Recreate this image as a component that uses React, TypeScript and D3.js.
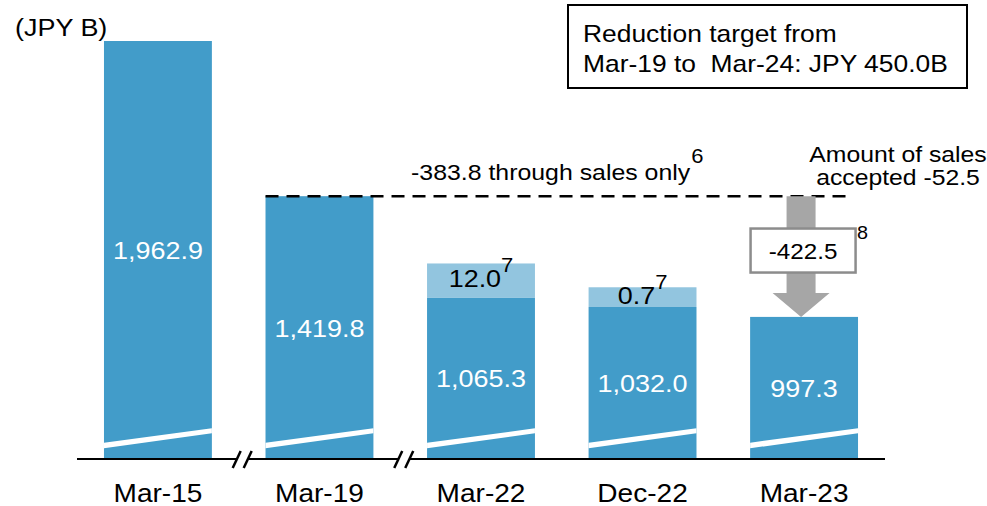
import React from 'react';
import * as d3 from 'd3';

// ---- data ----
const categories = ['Mar-15', 'Mar-19', 'Mar-22', 'Dec-22', 'Mar-23'];
const baseValues = [1962.9, 1419.8, 1065.3, 1032.0, 997.3];
const addOnValues: (number | null)[] = [null, null, 12.0, 0.7, null];
const addOnNotes: (string | null)[] = [null, null, '7', '7', null];
// the original draws the small add-on segments exaggerated (not to scale)
const addOnDrawnExtent = [0, 0, 119, 69, 0];
const axisFloor = 500; // broken axis: bars start at this value
const breaksAfter = ['Mar-15', 'Mar-19'];
const unitLabel = '(JPY B)';
const targetLines = ['Reduction target from', 'Mar-19 to\u00A0 Mar-24: JPY 450.0B'];
const salesOnly = -383.8;
const salesOnlyNote = '6';
const salesAcceptedLines = ['Amount of sales', 'accepted -52.5'];
const totalReduction = -422.5;
const totalNote = '8';
const refCategory = 'Mar-19';
const endCategory = 'Mar-23';

const W = 987;
const H = 506;
const FONT = "'Liberation Sans', Arial, Helvetica, sans-serif";
const DARK = '#429CC9';
const LIGHT = '#92C5DF';
const GRAY = '#A6A6A6';
const SX = 1.1;

const fmt = d3.format(',.1f');

function T({ x, y, size, anchor = 'start', fill = '#000', children }: any) {
  return (
    <text
      transform={`translate(${x},${y}) scale(${SX},1)`}
      fontSize={size}
      textAnchor={anchor}
      fill={fill}
      fontFamily={FONT}
    >
      {children}
    </text>
  );
}

export default function App() {
  const x = d3
    .scaleBand<string>()
    .domain(categories)
    .range([77, 885])
    .paddingInner(0.332)
    .paddingOuter(0.167);
  const y = d3.scaleLinear().domain([axisFloor, baseValues[0]]).range([459, 41]);
  const bw = x.bandwidth();
  const y0 = y(axisFloor);

  const refIdx = categories.indexOf(refCategory);
  const endIdx = categories.indexOf(endCategory);
  const yRef = y(baseValues[refIdx]);
  const yEnd = y(baseValues[endIdx]);
  const endX = (x(endCategory) as number);
  const arrowCx = endX + bw / 2 - 3;
  const shaftHalf = 14.5;
  const headHalf = 28.5;
  const headH = 24;
  const arrowPath = d3.path();
  arrowPath.moveTo(arrowCx - shaftHalf, yRef);
  arrowPath.lineTo(arrowCx + shaftHalf, yRef);
  arrowPath.lineTo(arrowCx + shaftHalf, yEnd - headH);
  arrowPath.lineTo(arrowCx + headHalf, yEnd - headH);
  arrowPath.lineTo(arrowCx, yEnd);
  arrowPath.lineTo(arrowCx - headHalf, yEnd - headH);
  arrowPath.lineTo(arrowCx - shaftHalf, yEnd - headH);
  arrowPath.closePath();

  const boxCx = endX + bw / 2 - 1;
  const boxCy = (yRef + yEnd) / 2 - 6;
  const dashStart = x(refCategory) as number;
  const dashEnd = endX + bw - 9;

  return (
    <svg
      width={W}
      height={H}
      style={{ position: 'absolute', left: 0, top: 0, background: '#fff' }}
    >
      <rect width={W} height={H} fill="#fff" />

      {/* bars */}
      {categories.map((c, i) => {
        const bx = x(c) as number;
        const top = y(baseValues[i]);
        return (
          <g key={c}>
            <rect x={bx} y={top} width={bw} height={y0 - top} fill={DARK} />
            {addOnValues[i] != null && (
              <rect
                x={bx}
                y={y(baseValues[i] + addOnDrawnExtent[i])}
                width={bw}
                height={top - y(baseValues[i] + addOnDrawnExtent[i])}
                fill={LIGHT}
              />
            )}
            {/* white slanted break band */}
            <polygon
              points={`${bx},${y0 - 16.3} ${bx + bw},${y0 - 30.7} ${bx + bw},${y0 - 25.7} ${bx},${y0 - 10.7}`}
              fill="#fff"
            />
            <T x={bx + bw / 2} y={(top + y0) / 2 + 9} size={24.5} anchor="middle" fill="#fff">
              {fmt(baseValues[i])}
            </T>
            {addOnValues[i] != null && (
              <T
                x={bx + bw / 2}
                y={(y(baseValues[i] + addOnDrawnExtent[i]) + top) / 2 + 7}
                size={24.5}
                anchor="middle"
              >
                <tspan>{fmt(addOnValues[i] as number)}</tspan>
                <tspan dy={-15} fontSize={20}>
                  {addOnNotes[i]}
                </tspan>
              </T>
            )}
            <T x={bx + bw / 2} y={501.7} size={25.5} anchor="middle">
              {c}
            </T>
          </g>
        );
      })}

      {/* axis */}
      <line x1={77} x2={885} y1={y0} y2={y0} stroke="#000" strokeWidth={2} />
      {breaksAfter.map((c) => {
        const i = categories.indexOf(c);
        const cx = ((x(c) as number) + bw + (x(categories[i + 1]) as number)) / 2 + 3.5;
        const m1 = cx - 5.5;
        const m2 = cx + 5.5;
        return (
          <g key={'brk' + c}>
            <polygon
              points={`${m1 - 4},${y0 + 9} ${m1 + 4},${y0 - 8} ${m2 + 4},${y0 - 8} ${m2 - 4},${y0 + 9}`}
              fill="#fff"
            />
            <line x1={m1 - 4} y1={y0 + 9} x2={m1 + 4} y2={y0 - 8} stroke="#000" strokeWidth={2.5} />
            <line x1={m2 - 4} y1={y0 + 9} x2={m2 + 4} y2={y0 - 8} stroke="#000" strokeWidth={2.5} />
          </g>
        );
      })}

      {/* dashed reference line */}
      <line
        x1={dashStart}
        x2={dashEnd}
        y1={yRef}
        y2={yRef}
        stroke="#000"
        strokeWidth={2.5}
        strokeDasharray="13 8"
      />
      <T x={(dashStart + dashEnd) / 2} y={180} size={22.6} anchor="middle">
        <tspan>{`${salesOnly.toFixed(1)} through sales only`}</tspan>
        <tspan dx={1} dy={-17} fontSize={20}>
          {salesOnlyNote}
        </tspan>
      </T>

      {/* arrow */}
      <path d={arrowPath.toString()} fill={GRAY} />
      <rect
        x={boxCx - 52.5}
        y={boxCy - 22}
        width={105}
        height={44}
        fill="#fff"
        stroke="#8C8C8C"
        strokeWidth={2.5}
      />
      <T x={boxCx} y={boxCy + 8} size={22} anchor="middle">
        {totalReduction.toFixed(1)}
      </T>
      <T x={boxCx + 54} y={boxCy - 12} size={18}>
        {totalNote}
      </T>

      {/* sales accepted note */}
      {salesAcceptedLines.map((l, i) => (
        <T key={l} x={898} y={161.7 + i * 23.5} size={22.5} anchor="middle">
          {l}
        </T>
      ))}

      {/* unit */}
      <T x={15} y={36} size={24.5}>
        {unitLabel}
      </T>

      {/* target box */}
      <rect x={568} y={5} width={399} height={83} fill="#fff" stroke="#000" strokeWidth={2} />
      {targetLines.map((l, i) => (
        <T key={l} x={583} y={42 + i * 30} size={24}>
          {l}
        </T>
      ))}
    </svg>
  );
}
